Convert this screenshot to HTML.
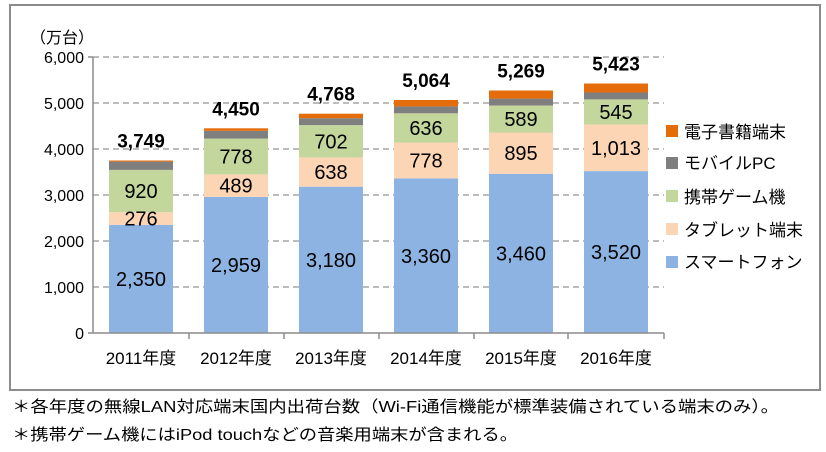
<!DOCTYPE html>
<html><head><meta charset="utf-8"><style>
body{margin:0;background:#fff;}
svg{display:block;font-family:"Liberation Sans","Noto Sans CJK JP",sans-serif;}
</style></head><body>
<svg width="826" height="452" xmlns="http://www.w3.org/2000/svg">
<rect x="10" y="5" width="810" height="385" fill="#fff" stroke="#8c8c8c" stroke-width="2"/>
<text x="30" y="43" font-size="16" fill="#000">（万台）</text>
<g font-size="16" fill="#000" text-anchor="end">
<text x="84" y="63">6,000</text><text x="84" y="109">5,000</text><text x="84" y="155">4,000</text>
<text x="84" y="201">3,000</text><text x="84" y="247">2,000</text><text x="84" y="293">1,000</text><text x="84" y="339">0</text>
</g>
<g stroke="#a6a6a6" stroke-width="1.5" stroke-dasharray="6,4">
<line x1="93" y1="57" x2="664" y2="57"/><line x1="93" y1="103" x2="664" y2="103"/><line x1="93" y1="149" x2="664" y2="149"/>
<line x1="93" y1="195" x2="664" y2="195"/><line x1="93" y1="241" x2="664" y2="241"/><line x1="93" y1="287" x2="664" y2="287"/>
</g>
<g>
<rect x="109" y="224.9" width="64" height="108.1" fill="#8db3e2"/>
<rect x="109" y="212.2" width="64" height="12.7" fill="#fcd5b5"/>
<rect x="109" y="169.9" width="64" height="42.3" fill="#c3d69b"/>
<rect x="109" y="161.6" width="64" height="8.3" fill="#7f7f7f"/>
<rect x="109" y="160.5" width="64" height="1.1" fill="#e46c0a"/>

<rect x="204" y="196.9" width="64" height="136.1" fill="#8db3e2"/>
<rect x="204" y="174.4" width="64" height="22.5" fill="#fcd5b5"/>
<rect x="204" y="138.6" width="64" height="35.8" fill="#c3d69b"/>
<rect x="204" y="130.8" width="64" height="7.8" fill="#7f7f7f"/>
<rect x="204" y="128.3" width="64" height="2.5" fill="#e46c0a"/>

<rect x="299" y="186.7" width="64" height="146.3" fill="#8db3e2"/>
<rect x="299" y="157.4" width="64" height="29.3" fill="#fcd5b5"/>
<rect x="299" y="125.1" width="64" height="32.3" fill="#c3d69b"/>
<rect x="299" y="118.2" width="64" height="6.9" fill="#7f7f7f"/>
<rect x="299" y="113.7" width="64" height="4.5" fill="#e46c0a"/>

<rect x="394" y="178.4" width="64" height="154.6" fill="#8db3e2"/>
<rect x="394" y="142.6" width="64" height="35.8" fill="#fcd5b5"/>
<rect x="394" y="113.3" width="64" height="29.3" fill="#c3d69b"/>
<rect x="394" y="106.4" width="64" height="6.9" fill="#7f7f7f"/>
<rect x="394" y="100.0" width="64" height="6.4" fill="#e46c0a"/>

<rect x="489" y="173.8" width="64" height="159.2" fill="#8db3e2"/>
<rect x="489" y="132.6" width="64" height="41.2" fill="#fcd5b5"/>
<rect x="489" y="105.5" width="64" height="27.1" fill="#c3d69b"/>
<rect x="489" y="98.6" width="64" height="6.9" fill="#7f7f7f"/>
<rect x="489" y="90.5" width="64" height="8.1" fill="#e46c0a"/>

<rect x="584" y="171.1" width="64" height="161.9" fill="#8db3e2"/>
<rect x="584" y="124.5" width="64" height="46.6" fill="#fcd5b5"/>
<rect x="584" y="99.4" width="64" height="25.1" fill="#c3d69b"/>
<rect x="584" y="92.5" width="64" height="6.9" fill="#7f7f7f"/>
<rect x="584" y="83.5" width="64" height="9.0" fill="#e46c0a"/>
</g>
<g font-size="20" text-anchor="middle" fill="#000">
<text x="141" y="286">2,350</text><text x="141" y="225.5">276</text><text x="141" y="198">920</text>
<text x="236" y="272">2,959</text><text x="236" y="192.7">489</text><text x="236" y="163.5">778</text>
<text x="331" y="267">3,180</text><text x="331" y="179">638</text><text x="331" y="148.3">702</text>
<text x="426" y="263">3,360</text><text x="426" y="167.5">778</text><text x="426" y="135">636</text>
<text x="521" y="260.4">3,460</text><text x="521" y="160.2">895</text><text x="521" y="126.1">589</text>
<text x="616" y="259">3,520</text><text x="616" y="154.8">1,013</text><text x="616" y="119">545</text>
</g>
<g font-size="19" font-weight="bold" text-anchor="middle" fill="#000">
<text x="141" y="147.5">3,749</text><text x="236" y="115.3">4,450</text><text x="331" y="100.7">4,768</text>
<text x="426" y="87">5,064</text><text x="521" y="77.5">5,269</text><text x="616" y="70.5">5,423</text>
</g>
<g font-size="17" text-anchor="middle" fill="#000">
<text x="141" y="364">2011年度</text><text x="236" y="364">2012年度</text><text x="331" y="364">2013年度</text>
<text x="426" y="364">2014年度</text><text x="521" y="364">2015年度</text><text x="616" y="364">2016年度</text>
</g>
<g stroke="#8c8c8c" stroke-width="1.5">
<line x1="93" y1="57" x2="93" y2="333"/><line x1="88" y1="57" x2="93" y2="57"/>
<line x1="88" y1="333" x2="664" y2="333"/>
<line x1="189" y1="333" x2="189" y2="339"/><line x1="284" y1="333" x2="284" y2="339"/><line x1="379" y1="333" x2="379" y2="339"/>
<line x1="474" y1="333" x2="474" y2="339"/><line x1="568" y1="333" x2="568" y2="339"/><line x1="664" y1="333" x2="664" y2="339"/>
</g>
<g font-size="17">
<rect x="666" y="125" width="12" height="12" fill="#e46c0a"/><text x="684" y="138">電子書籍端末</text>
<rect x="666" y="157" width="12" height="12" fill="#7f7f7f"/><text x="684" y="169">モバイルPC</text>
<rect x="666" y="190" width="12" height="12" fill="#c3d69b"/><text x="684" y="203">携帯ゲーム機</text>
<rect x="666" y="223" width="12" height="12" fill="#fcd5b5"/><text x="684" y="236">タブレット端末</text>
<rect x="666" y="256" width="12" height="12" fill="#8db3e2"/><text x="684" y="268">スマートフォン</text>
</g>
<text x="12" y="412" font-size="16" textLength="767" lengthAdjust="spacingAndGlyphs">＊各年度の無線LAN対応端末国内出荷台数（Wi-Fi通信機能が標準装備されている端末のみ）。</text>
<text x="12" y="440" font-size="16" textLength="506" lengthAdjust="spacingAndGlyphs">＊携帯ゲーム機にはiPod touchなどの音楽用端末が含まれる。</text>
</svg>
</body></html>
